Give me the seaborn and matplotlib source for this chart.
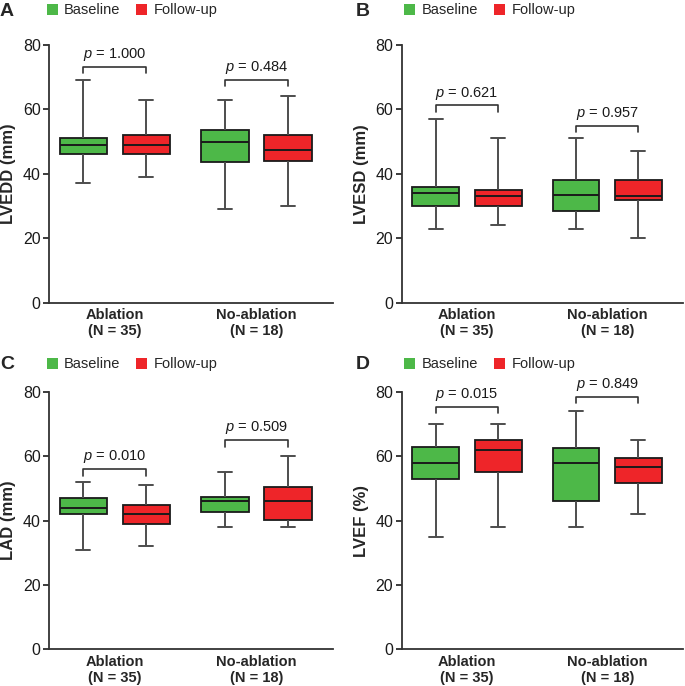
import pandas as pd
import matplotlib
matplotlib.use("Agg")
import matplotlib.pyplot as plt
import seaborn as sns

# ---------------------------------------------
# Data: five-number summaries (min, Q1, median, Q3, max)
# ---------------------------------------------
groups = ["Ablation\n(N = 35)", "No-ablation\n(N = 18)"]
times = ["Baseline", "Follow-up"]

lvedd_abl_base = [37, 46, 49, 51, 69]
lvedd_abl_fu = [39, 46, 49, 52, 63]
lvedd_noabl_base = [29, 43.5, 50, 53.5, 63]
lvedd_noabl_fu = [30, 44, 47.5, 52, 64]

lvesd_abl_base = [23, 30, 34, 36, 57]
lvesd_abl_fu = [24, 30, 33, 35, 51]
lvesd_noabl_base = [23, 28.5, 33.5, 38, 51]
lvesd_noabl_fu = [20, 32, 33, 38, 47]

lad_abl_base = [31, 42, 44, 47, 52]
lad_abl_fu = [32, 39, 42, 45, 51]
lad_noabl_base = [38, 42.6, 46, 47.3, 55]
lad_noabl_fu = [38, 40.1, 46, 50.4, 60]

lvef_abl_base = [35, 53, 58, 63, 70]
lvef_abl_fu = [38, 55, 62, 65, 70]
lvef_noabl_base = [38, 46.2, 58, 62.5, 74]
lvef_noabl_fu = [42, 51.8, 56.6, 59.4, 65]

p_labels = {
    "LVEDD": ["1.000", "0.484"],
    "LVESD": ["0.621", "0.957"],
    "LAD": ["0.010", "0.509"],
    "LVEF": ["0.015", "0.849"],
}
bracket_y = {
    "LVEDD": [73.2, 69.2],
    "LVESD": [61.2, 54.8],
    "LAD": [56, 65],
    "LVEF": [75.4, 78.5],
}

panels = [
    ("A", "LVEDD", "LVEDD (mm)", [lvedd_abl_base, lvedd_abl_fu, lvedd_noabl_base, lvedd_noabl_fu]),
    ("B", "LVESD", "LVESD (mm)", [lvesd_abl_base, lvesd_abl_fu, lvesd_noabl_base, lvesd_noabl_fu]),
    ("C", "LAD", "LAD (mm)", [lad_abl_base, lad_abl_fu, lad_noabl_base, lad_noabl_fu]),
    ("D", "LVEF", "LVEF (%)", [lvef_abl_base, lvef_abl_fu, lvef_noabl_base, lvef_noabl_fu]),
]


def to_long(series):
    rows = []
    keys = [(groups[0], times[0]), (groups[0], times[1]), (groups[1], times[0]), (groups[1], times[1])]
    for (g, t), vals in zip(keys, series):
        for v in vals:
            rows.append({"group": g, "time": t, "value": v})
    return pd.DataFrame(rows)


# ---------------------------------------------
# Style
# ---------------------------------------------
sns.set_style("ticks")
plt.rcParams["font.family"] = ["Liberation Sans", "DejaVu Sans"]
plt.rcParams["mathtext.fontset"] = "custom"
plt.rcParams["mathtext.it"] = "Liberation Sans:italic"
plt.rcParams["mathtext.rm"] = "Liberation Sans"

palette = {"Baseline": "#4DB848", "Follow-up": "#EE2529"}
box_width = 0.89
dodge_off = box_width / 4

fig = plt.figure(figsize=(6.85, 6.86), dpi=100)

# axes rectangles (figure fraction) and label anchors
rects = [
    [0.0715, 0.5587, 0.4146, 0.376],
    [0.5864, 0.5587, 0.4107, 0.376],
    [0.0715, 0.0535, 0.4146, 0.375],
    [0.5864, 0.0535, 0.4107, 0.375],
]
letter_pos = [(0.0, 0.983), (0.519, 0.983), (0.0, 0.469), (0.519, 0.469)]
legend_pos = [(0.068, 0.985), (0.590, 0.985), (0.068, 0.469), (0.590, 0.469)]

for (letter, key, ylabel, series), rect, lp, gp in zip(panels, rects, letter_pos, legend_pos):
    ax = fig.add_axes(rect)
    df = to_long(series)
    sns.boxplot(
        data=df, x="group", y="value", hue="time", order=groups, hue_order=times,
        palette=palette, whis=(0, 100), width=box_width, gap=0.25, saturation=1,
        linecolor="#1a1a1a", linewidth=1.3, capwidths=0.1,
        whiskerprops=dict(color="#4d4d4d", linewidth=1.4),
        capprops=dict(color="#4d4d4d", linewidth=1.4),
        medianprops=dict(color="#1a1a1a", linewidth=1.4),
        ax=ax,
    )

    # significance brackets
    for i, (pl, by) in enumerate(zip(p_labels[key], bracket_y[key])):
        x0, x1 = i - dodge_off, i + dodge_off
        ax.plot([x0, x0, x1, x1], [by - 2, by, by, by - 2], color="#333333", lw=1.2)
        ax.text(i, by + 1.2, r"$\it{p}$ = " + pl, ha="center", va="bottom",
                fontsize=10.5, color="#1a1a1a")

    ax.set_ylim(0, 80)
    ax.set_xlim(-0.465, 1.54)
    ax.set_yticks([0, 20, 40, 60, 80])
    ax.set_xlabel("")
    ax.set_ylabel(ylabel, fontsize=12, fontweight="bold", labelpad=5)
    ax.tick_params(axis="y", labelsize=11.5, length=4.5, width=1.2, pad=1.5, colors="#1a1a1a")
    ax.tick_params(axis="x", length=0, pad=4)
    for lab in ax.get_xticklabels():
        lab.set_fontweight("bold")
        lab.set_fontsize(10.5)
    for s in ["left", "bottom"]:
        ax.spines[s].set_color("#333333")
        ax.spines[s].set_linewidth(1.3)
    sns.despine(ax=ax)

    # legend above each panel
    sns.move_legend(ax, "center left", bbox_to_anchor=gp, bbox_transform=fig.transFigure,
                    ncol=2, frameon=False, title=None, fontsize=10.5,
                    handlelength=0.75, handleheight=0.75, handletextpad=0.45,
                    columnspacing=1.1, borderpad=0, borderaxespad=0)
    for h in ax.get_legend().legend_handles:
        h.set_edgecolor("none")

    fig.text(lp[0], lp[1], letter, fontsize=14, fontweight="bold", va="center", ha="left")

fig.savefig("out.png", dpi=100)
